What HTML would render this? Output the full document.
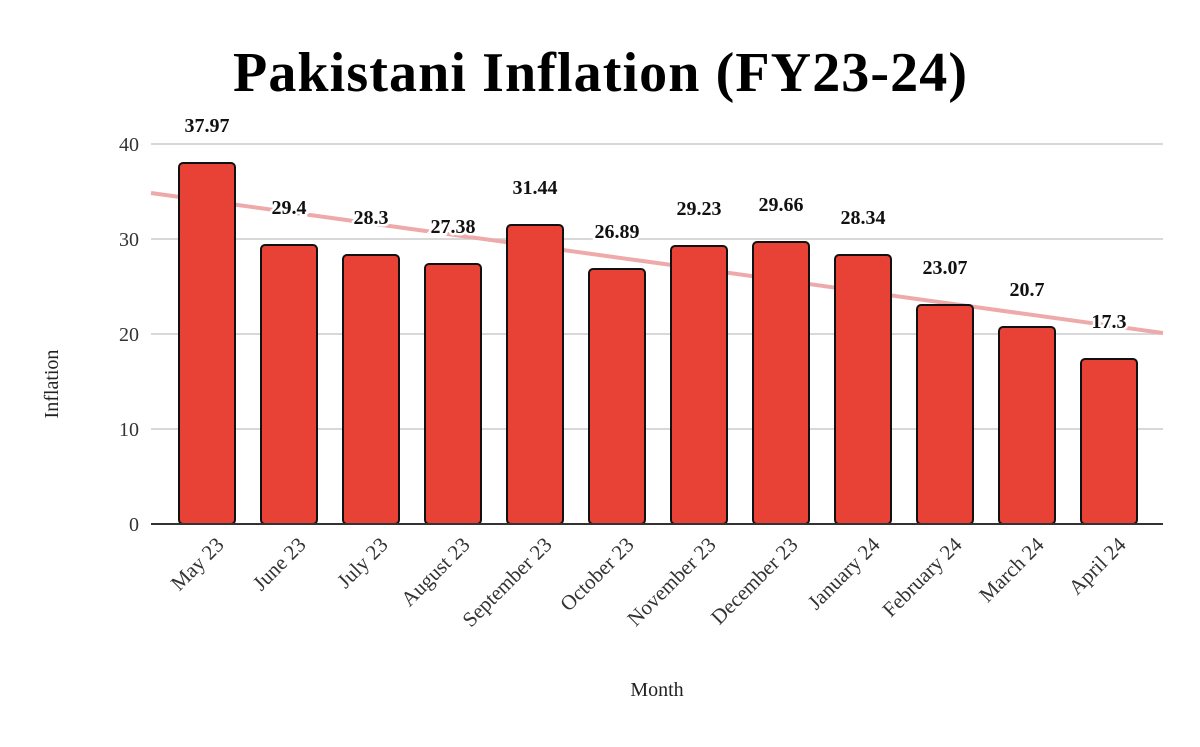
<!DOCTYPE html>
<html><head><meta charset="utf-8"><style>body{margin:0;background:#fff}</style></head><body>
<svg width="1200" height="742" xmlns="http://www.w3.org/2000/svg" font-family="Liberation Serif, serif">
<rect width="1200" height="742" fill="#fff"/>
<text x="600" y="91" text-anchor="middle" font-size="56" font-weight="bold" fill="#000" textLength="734" lengthAdjust="spacing">Pakistani Inflation (FY23-24)</text>
<g stroke="#ccc" stroke-width="1.5">
<line x1="151" y1="144" x2="1163" y2="144"/><line x1="151" y1="239" x2="1163" y2="239"/>
<line x1="151" y1="334" x2="1163" y2="334"/><line x1="151" y1="429" x2="1163" y2="429"/>
</g>
<g font-size="20" fill="#333" text-anchor="end">
<text x="139" y="151">40</text><text x="139" y="246">30</text><text x="139" y="341">20</text><text x="139" y="436">10</text><text x="139" y="531">0</text>
</g>
<line x1="151" y1="193" x2="1163" y2="333" stroke="#eeaaaa" stroke-width="4"/>
<g fill="#e84236" stroke="#111" stroke-width="2">
<rect x="179" y="163" width="56" height="361" rx="4"/>
<rect x="261" y="245" width="56" height="279" rx="4"/>
<rect x="343" y="255" width="56" height="269" rx="4"/>
<rect x="425" y="264" width="56" height="260" rx="4"/>
<rect x="507" y="225" width="56" height="299" rx="4"/>
<rect x="589" y="269" width="56" height="255" rx="4"/>
<rect x="671" y="246" width="56" height="278" rx="4"/>
<rect x="753" y="242" width="56" height="282" rx="4"/>
<rect x="835" y="255" width="56" height="269" rx="4"/>
<rect x="917" y="305" width="56" height="219" rx="4"/>
<rect x="999" y="327" width="56" height="197" rx="4"/>
<rect x="1081" y="359" width="56" height="165" rx="4"/>
</g>
<line x1="151" y1="524" x2="1163" y2="524" stroke="#333" stroke-width="2"/>
<g font-size="20" font-weight="bold" text-anchor="middle" fill="#111" stroke="#fff" stroke-width="5" paint-order="stroke">
<text x="207" y="132">37.97</text><text x="289" y="214">29.4</text><text x="371" y="224">28.3</text>
<text x="453" y="233">27.38</text><text x="535" y="194">31.44</text><text x="617" y="238">26.89</text>
<text x="699" y="215">29.23</text><text x="781" y="211">29.66</text><text x="863" y="224">28.34</text>
<text x="945" y="274">23.07</text><text x="1027" y="296">20.7</text><text x="1109" y="328">17.3</text>
</g>
<g font-size="21" fill="#333" text-anchor="end">
<text transform="translate(225,546) rotate(-45)">May 23</text>
<text transform="translate(307,546) rotate(-45)">June 23</text>
<text transform="translate(389,546) rotate(-45)">July 23</text>
<text transform="translate(471,546) rotate(-45)">August 23</text>
<text transform="translate(553,546) rotate(-45)">September 23</text>
<text transform="translate(635,546) rotate(-45)">October 23</text>
<text transform="translate(717,546) rotate(-45)">November 23</text>
<text transform="translate(799,546) rotate(-45)">December 23</text>
<text transform="translate(881,546) rotate(-45)">January 24</text>
<text transform="translate(963,546) rotate(-45)">February 24</text>
<text transform="translate(1045,546) rotate(-45)">March 24</text>
<text transform="translate(1127,546) rotate(-45)">April 24</text>
</g>
<text x="657" y="696" text-anchor="middle" font-size="20" fill="#222">Month</text>
<text transform="translate(58,384) rotate(-90)" text-anchor="middle" font-size="20" fill="#222">Inflation</text>
</svg>
</body></html>
